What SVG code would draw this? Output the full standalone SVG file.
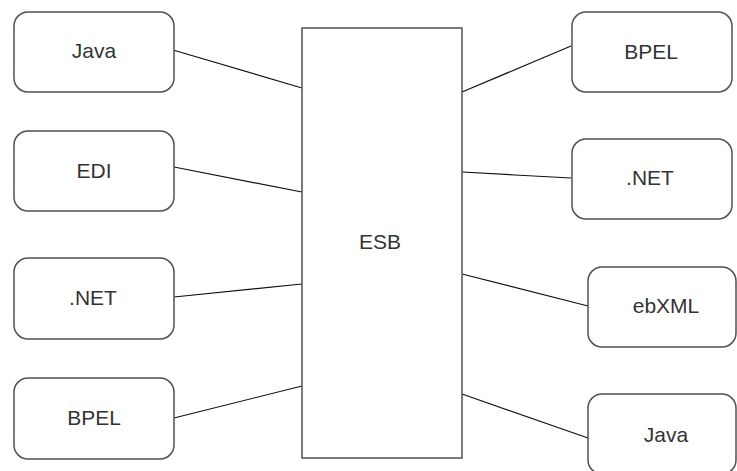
<svg xmlns="http://www.w3.org/2000/svg" width="737" height="471" viewBox="0 0 737 471">
  <style>
    .box { fill: #ffffff; stroke: #505050; stroke-width: 1.5; }
    .bus { fill: #ffffff; stroke: #505050; stroke-width: 1.5; }
    .lbl { font-family: "Liberation Sans", Arial, sans-serif; font-size: 21px; fill: #333333; text-anchor: middle; }
    .link { stroke: #111111; stroke-width: 1.2; fill: none; }
  </style>
  <rect width="737" height="471" fill="#ffffff"/>

  <!-- connectors between the bus and the endpoints -->
  <g id="connectors">
    <line class="link" x1="173" y1="50" x2="302" y2="88"/>
    <line class="link" x1="174" y1="167" x2="302" y2="192"/>
    <line class="link" x1="174" y1="297" x2="302" y2="284"/>
    <line class="link" x1="174" y1="418" x2="302" y2="386"/>
    <line class="link" x1="462" y1="92" x2="571" y2="46"/>
    <polyline class="link" points="462,172 515,175 571,178"/>
    <line class="link" x1="462" y1="274" x2="588" y2="306"/>
    <line class="link" x1="462" y1="394" x2="588" y2="438"/>
  </g>

  <!-- central bus -->
  <g id="esb">
    <rect class="bus" x="302" y="28" width="160" height="430"/>
    <text class="lbl" x="380" y="249">ESB</text>
  </g>

  <!-- left endpoints -->
  <g id="left-java">
    <rect class="box" x="14" y="12" width="160" height="80" rx="14"/>
    <text class="lbl" x="94" y="58">Java</text>
  </g>
  <g id="left-edi">
    <rect class="box" x="14" y="131" width="160" height="80" rx="14"/>
    <text class="lbl" x="94" y="178">EDI</text>
  </g>
  <g id="left-net">
    <rect class="box" x="14" y="258" width="160" height="81" rx="14"/>
    <text class="lbl" x="93" y="305">.NET</text>
  </g>
  <g id="left-bpel">
    <rect class="box" x="14" y="378" width="160" height="81" rx="14"/>
    <text class="lbl" x="94" y="425">BPEL</text>
  </g>

  <!-- right endpoints -->
  <g id="right-bpel">
    <rect class="box" x="572" y="12" width="160" height="80" rx="14"/>
    <text class="lbl" x="651" y="59">BPEL</text>
  </g>
  <g id="right-net">
    <rect class="box" x="572" y="139" width="160" height="80" rx="14"/>
    <text class="lbl" x="650" y="185">.NET</text>
  </g>
  <g id="right-ebxml">
    <rect class="box" x="588" y="267" width="148" height="80" rx="14"/>
    <text class="lbl" x="666" y="313">ebXML</text>
  </g>
  <g id="right-java">
    <rect class="box" x="588" y="394" width="148" height="80" rx="14"/>
    <text class="lbl" x="666" y="442">Java</text>
  </g>
</svg>
